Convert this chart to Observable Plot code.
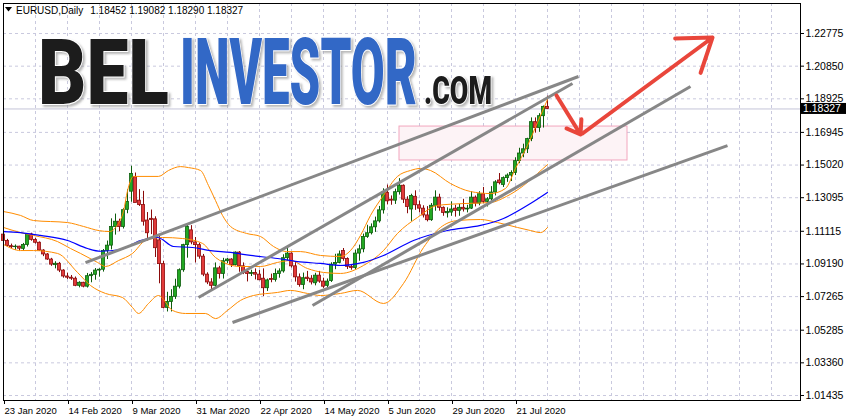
<!DOCTYPE html>
<html><head><meta charset="utf-8">
<script src="https://cdn.jsdelivr.net/npm/d3@7"></script>
<script src="https://cdn.jsdelivr.net/npm/@observablehq/plot@0.6"></script>
<style>
html,body{margin:0;padding:0;background:#fff;overflow:hidden;}
#chart{position:relative;width:846px;height:419px;overflow:hidden;}
#chart svg{display:block;}
</style></head><body><div id="chart"></div>
<script>
// ---------- data ----------
const xTickBars = [0,16,32,48,64,80,96,112,128];
const xTickLabels = ["23 Jan 2020","14 Feb 2020","9 Mar 2020","31 Mar 2020","22 Apr 2020","14 May 2020","5 Jun 2020","29 Jun 2020","21 Jul 2020"];
const yTicks = [1.22775,1.20850,1.18925,1.16945,1.15020,1.13095,1.11115,1.09190,1.07265,1.05285,1.03360,1.01435];
const yTickLabels = ["1.22775","1.20850","1.18925","1.16945","1.15020","1.13095","1.11115","1.09190","1.07265","1.05285","1.03360","1.01435"];
const gridBars = [8,16,24,32,40,48,56,64,72,80,88,96,104,112,120,128,136,144,152,160,168,176,184,192];

const open = [1.1092,1.1055,1.1024,1.1018,1.1021,1.1008,1.1031,1.1093,1.1061,1.1044,1.0998,1.0975,1.0945,1.0912,1.0920,1.0880,1.0845,1.0838,1.0832,1.0790,1.0808,1.0785,1.0847,1.0855,1.0880,1.0885,1.0995,
1.1027,1.1137,1.1168,1.1137,1.1238,1.1345,1.1430,1.1292,1.1266,1.1175,1.1185,1.1182,1.1058,1.0918,1.0660,1.0695,1.0725,1.0785,1.0882,1.1030,1.1117,1.1046,
1.1030,1.0962,1.0856,1.0810,1.0790,1.0893,1.0860,1.0935,1.0945,1.0912,1.0986,1.0905,1.0872,1.0860,1.0866,1.0856,1.0832,1.0776,1.0830,1.0825,1.0860,1.0875,
1.0953,1.0980,1.0905,1.0840,1.0795,1.0838,1.0832,1.0805,1.0850,1.0815,1.0790,1.0818,1.0915,1.0925,1.0995,1.0948,1.0902,1.0895,1.0980,1.1005,1.1078,
1.1100,1.1135,1.1170,1.1235,1.1338,1.1298,1.1292,1.1342,1.1380,1.1298,1.1240,1.1315,1.1265,1.1245,1.1205,1.1177,1.1262,1.1310,1.1250,1.1218,1.1222,1.1245,
1.1232,1.1250,1.1240,1.1245,1.1310,1.1275,1.1330,1.1285,1.1300,1.1340,1.1411,1.1385,1.1425,1.1440,1.1455,1.1525,1.1570,1.1595,1.1655,1.1755,1.1720,1.1790,1.18452];
const high = [1.1101,1.1064,1.1036,1.1031,1.1023,1.1040,1.1096,1.1100,1.1070,1.1049,1.1003,1.0980,1.0952,1.0932,1.0928,1.0885,1.0865,1.0851,1.0842,1.0814,1.0811,1.0863,1.0868,1.0892,1.0891,1.1004,1.1054,
1.1185,1.1213,1.1183,1.1245,1.1356,1.1495,1.1455,1.1357,1.1347,1.1222,1.1237,1.1197,1.1090,1.0935,1.0752,1.0767,1.0829,1.0890,1.1035,1.1147,1.1145,1.1075,
1.1041,1.0975,1.0867,1.0832,1.0925,1.0905,1.0952,1.0951,1.0950,1.0990,1.0992,1.0925,1.0886,1.0882,1.0890,1.0880,1.0890,1.0830,1.0859,1.0889,1.0890,1.0973,
1.1019,1.0985,1.0932,1.0860,1.0865,1.0875,1.0850,1.0864,1.0875,1.0835,1.0830,1.0926,1.0976,1.0995,1.1010,1.0955,1.0915,1.1000,1.1030,1.1095,1.1147,
1.1155,1.1195,1.1258,1.1362,1.1384,1.1320,1.1360,1.1422,1.1385,1.1315,1.1330,1.1350,1.1290,1.1262,1.1257,1.1275,1.1350,1.1330,1.1255,1.1250,1.1285,1.1265,
1.1270,1.1300,1.1265,1.1345,1.1320,1.1345,1.1370,1.1310,1.1375,1.1410,1.1452,1.1432,1.1450,1.1468,1.1545,1.1601,1.1625,1.1660,1.1780,1.1780,1.1805,1.1850,1.19082];
const low = [1.1036,1.1019,1.1010,1.0999,1.0992,1.0994,1.1019,1.1053,1.1036,1.0995,1.0962,1.0940,1.0905,1.0890,1.0868,1.0835,1.0827,1.0822,1.0785,1.0778,1.0778,1.0777,1.0808,1.0823,1.0841,1.0871,1.0945,
1.1002,1.1089,1.1109,1.1125,1.1215,1.1283,1.1282,1.1258,1.1142,1.1054,1.1092,1.0957,1.0802,1.0654,1.0636,1.0636,1.0710,1.0772,1.0870,1.0953,1.1032,1.0925,
1.0947,1.0844,1.0797,1.0768,1.0781,1.0830,1.0830,1.0921,1.0898,1.0907,1.0870,1.0856,1.0813,1.0845,1.0825,1.0820,1.0727,1.0757,1.0808,1.0812,1.0835,1.0865,
1.0937,1.0895,1.0812,1.0782,1.0767,1.0815,1.0795,1.0790,1.0805,1.0775,1.0766,1.0810,1.0885,1.0920,1.0935,1.0886,1.0882,1.0882,1.0935,1.0985,1.1070,
1.1090,1.1105,1.1160,1.1213,1.1267,1.1265,1.1270,1.1325,1.1275,1.1215,1.1170,1.1235,1.1220,1.1190,1.1167,1.1170,1.1230,1.1230,1.1200,1.1190,1.1200,1.1195,
1.1200,1.1225,1.1220,1.1240,1.1255,1.1262,1.1275,1.1255,1.1290,1.1320,1.1385,1.1370,1.1400,1.1405,1.1440,1.1510,1.1545,1.1570,1.1640,1.1690,1.1695,1.1720,1.18290];
const close = [1.1055,1.1025,1.1018,1.1020,1.1009,1.1031,1.1093,1.1061,1.1044,1.0998,1.0975,1.0945,1.0915,1.0920,1.0880,1.0845,1.0838,1.0832,1.0790,1.0808,1.0785,1.0847,1.0855,1.0880,1.0885,1.0995,1.1027,
1.1137,1.1168,1.1137,1.1236,1.1285,1.1450,1.1278,1.1266,1.1168,1.1100,1.1178,1.1012,1.0918,1.0660,1.0695,1.0725,1.0785,1.0882,1.1030,1.1137,1.1046,1.1030,
1.0962,1.0856,1.0810,1.0790,1.0893,1.0860,1.0935,1.0945,1.0912,1.0986,1.0905,1.0865,1.0860,1.0866,1.0856,1.0823,1.0776,1.0822,1.0825,1.0860,1.0875,1.0953,
1.0980,1.0905,1.0840,1.0795,1.0835,1.0830,1.0810,1.0850,1.0815,1.0785,1.0815,1.0915,1.0925,1.0975,1.0948,1.0902,1.0895,1.0980,1.1005,1.1078,1.1100,
1.1135,1.1170,1.1235,1.1340,1.1288,1.1292,1.1342,1.1380,1.1298,1.1255,1.1320,1.1265,1.1245,1.1205,1.1177,1.1262,1.1310,1.1250,1.1220,1.1225,1.1240,1.1232,
1.1250,1.1240,1.1245,1.1310,1.1275,1.1330,1.1285,1.1300,1.1340,1.1400,1.1395,1.1425,1.1440,1.1455,1.1525,1.1570,1.1595,1.1655,1.1755,1.1720,1.1790,1.1845,1.18327];

// indicator lines: [bar, price]
const bbUpper = [[0,1.1228],[4.25,1.1205],[7.5,1.1175],[16,1.1163],[20,1.1140],[24,1.1115],[26.5,1.1110],[28.5,1.1150],[30,1.1230],[31,1.1350],[32.5,1.1435],[38.75,1.1435],[41.25,1.1470],[44.25,1.1493],[46.25,1.1487],[49.25,1.1470],[51.25,1.1381],[53,1.1293],[54.75,1.1205],[56.75,1.1140],[60.75,1.1099],[64.25,1.1081],[67.5,1.1022],[70.75,1.0992],[74.25,1.0992],[79.25,1.0969],[84.25,1.0963],[86.75,1.0998],[89.25,1.1087],[91.75,1.1205],[95,1.1323],[98.5,1.1435],[101.75,1.1470],[104.25,1.1482],[106.75,1.1470],[111.75,1.1393],[116.75,1.1346],[121.75,1.1334],[125.5,1.1364],[128,1.1482],[131,1.1617],[133.5,1.1753],[136,1.1888]];
const bbMiddle = [[0,1.1134],[4.25,1.1104],[7.5,1.1087],[13.5,1.1051],[16.75,1.1010],[19.25,1.0981],[23.5,1.0928],[25.5,1.0904],[28.75,1.0939],[32.25,1.0981],[35.5,1.1057],[39.75,1.1075],[44.75,1.1069],[49.75,1.1040],[53,1.0957],[55,1.0928],[59.25,1.0904],[64.25,1.0904],[68.5,1.0928],[71.75,1.0939],[76,1.0892],[80,1.0869],[84.25,1.0863],[90,1.0910],[95,1.0998],[98.5,1.1099],[103.5,1.1193],[108.5,1.1264],[115,1.1275],[121.75,1.1281],[125.75,1.1317],[130,1.1381],[133.5,1.1452],[136,1.1505]];
const bbLower = [[0,1.1034],[4.25,1.0998],[7.5,1.0998],[13.5,1.0981],[18.5,1.0869],[21.75,1.0792],[25.5,1.0745],[29.75,1.0721],[32.25,1.0662],[33.75,1.0627],[36.25,1.0686],[38.75,1.0733],[42.25,1.0645],[45.5,1.0627],[50.5,1.0627],[53,1.0597],[56,1.0645],[59.25,1.0704],[62.5,1.0733],[68.5,1.0751],[71.75,1.0763],[76,1.0745],[79.25,1.0733],[84.25,1.0745],[88.5,1.0763],[95,1.0686],[100,1.0804],[105,1.1016],[109.25,1.1134],[113.5,1.1175],[119.25,1.1181],[123.5,1.1163],[128.5,1.1134],[131.75,1.1116],[134.25,1.1104],[136,1.1134]];
const maBlue = [[0,1.1110],[4.25,1.1104],[9.25,1.1087],[16,1.1057],[21,1.1010],[24.25,1.0994],[29.25,1.1004],[34.25,1.1057],[38.5,1.1075],[42.5,1.1022],[47.25,1.1016],[51.75,1.0998],[56.75,1.0987],[61.75,1.0969],[68.5,1.0951],[73.5,1.0933],[79.25,1.0922],[84.25,1.0910],[90,1.0928],[95,1.0969],[102.5,1.1057],[111,1.1116],[119.25,1.1146],[125,1.1187],[131.75,1.1275],[136,1.1340]];

// drawn objects: [bar1, price1, bar2, price2]
const trendLines = [[20.5,1.0927,143.75,1.2024],[48.75,1.0721,142.25,1.1983],[57.25,1.0574,181,1.1617],[77.25,1.0674,171.75,1.1965]];
const arrowSegs = [[138.25,1.1912,144.25,1.1682],[144.75,1.1688,177.25,1.2254]];
const zone = [[99,156,1.1529,1.1729]];
const lastPrice = 1.18327;
const headerSymbol = "EURUSD,Daily";
const headerValues = ["1.18452","1.19082","1.18290","1.18327"];

// ---------- chart ----------
const candles = open.map((o,i)=>({i,o,h:high[i],l:low[i],c:close[i],up:close[i]>=o}));
const bullFill="#22a822", bullEdge="#0c5c0c", bearFill="#e23a3a", bearEdge="#8a0a0a";
const grid="#c9c9de";
const FONT = "'Liberation Sans', Arial, sans-serif";

const chart = Plot.plot({
  width:846, height:419,
  marginLeft:3, marginRight:46, marginTop:3, marginBottom:19,
  x:{domain:[0,199.25], label:null},
  y:{domain:[1.01140,1.24544], label:null},
  style:{fontFamily:FONT, background:"#fff"},
  marks:[
    Plot.ruleY(yTicks,{stroke:grid,strokeDasharray:"3,3"}),
    Plot.ruleX(gridBars,{stroke:grid,strokeDasharray:"3,3"}),
    Plot.rect(zone,{x1:d=>d[0],x2:d=>d[1],y1:d=>d[2],y2:d=>d[3],fill:"#fdf3f6",stroke:"#f2a6be",strokeWidth:1}),
    Plot.ruleY([lastPrice],{stroke:"#c4c4d8"}),
    Plot.ruleX(candles,{x:"i",y1:"l",y2:"h",stroke:d=>d.up?bullEdge:bearEdge,strokeWidth:1}),
    Plot.rect(candles,{x1:d=>d.i-0.37,x2:d=>d.i+0.37,y1:"o",y2:d=>Math.abs(d.c-d.o)<0.0003?d.o+0.0003:d.c,
      fill:d=>d.up?bullFill:bearFill,stroke:d=>d.up?bullEdge:bearEdge,strokeWidth:0.8}),
    Plot.line(bbUpper,{x:d=>d[0],y:d=>d[1],stroke:"#ff8c00",strokeWidth:1,curve:"monotone-x"}),
    Plot.line(bbMiddle,{x:d=>d[0],y:d=>d[1],stroke:"#ff8c00",strokeWidth:1,curve:"monotone-x"}),
    Plot.line(bbLower,{x:d=>d[0],y:d=>d[1],stroke:"#ff8c00",strokeWidth:1,curve:"monotone-x"}),
    Plot.line(maBlue,{x:d=>d[0],y:d=>d[1],stroke:"#0000ff",strokeWidth:1.2,curve:"monotone-x"}),
    Plot.link(trendLines,{x1:d=>d[0],y1:d=>d[1],x2:d=>d[2],y2:d=>d[3],stroke:"#878787",strokeWidth:3}),
    Plot.arrow(arrowSegs,{x1:d=>d[0],y1:d=>d[1],x2:d=>d[2],y2:d=>d[3],stroke:"#e9463b",strokeWidth:4,headLength:14,headAngle:70}),
    Plot.frame({stroke:"#000"}),
    Plot.axisY(yTicks,{anchor:"right",label:null,tickSize:3,tickPadding:2,fontSize:10.5,fill:"#000",tickFormat:d=>yTickLabels[yTicks.indexOf(d)]}),
    Plot.axisX(xTickBars,{anchor:"bottom",label:null,tickSize:4,tickPadding:3,fontSize:9.5,fill:"#000",textAnchor:"start",dx:1,tickFormat:d=>xTickLabels[xTickBars.indexOf(d)]})
  ]
});
document.getElementById("chart").appendChild(chart);

const svg = d3.select(chart);

// extras positioned through the plot scales
const ys = chart.scale("y"), xs = chart.scale("x");
const yLast = ys.apply(lastPrice);
const xRight = xs.apply(199.25);
const lbl = svg.append("g").attr("text-anchor","start");
lbl.append("rect").attr("x",xRight).attr("y",yLast-5.5).attr("width",46).attr("height",11).attr("fill","#000");
lbl.append("text").attr("x",xRight+3).attr("y",yLast+3.8).attr("fill","#fff").attr("font-size",10.5)
  .attr("font-family",FONT).text(lastPrice.toFixed(5));

// header
const x0 = xs.apply(0), yTop = ys.apply(1.24544);
const hdr = svg.append("g").attr("text-anchor","start").attr("font-family",FONT).attr("font-size",10).attr("fill","#000");
hdr.append("path").attr("d",`M${x0+2},${yTop+4}h7l-3.5,4.5z`).attr("fill","#000");
const sym = hdr.append("text").attr("x",x0+13).attr("y",yTop+11).text(headerSymbol);
const symLen = sym.node().getComputedTextLength();
hdr.append("text").attr("x",x0+13+symLen+7).attr("y",yTop+11).text(headerValues.join(" "));

// watermark logo
const defs = svg.append("defs");
const f = defs.append("filter").attr("id","lg").attr("x","-10%").attr("y","-10%").attr("width","130%").attr("height","140%");
f.append("feDropShadow").attr("dx",2).attr("dy",2).attr("stdDeviation",1.2).attr("flood-color","#888").attr("flood-opacity",0.6);
const logo = svg.append("g").attr("filter","url(#lg)").attr("text-anchor","start")
  .attr("font-family","Roboto, 'Liberation Sans', sans-serif").attr("font-weight",900)
  .attr("stroke","#fff").attr("stroke-width",2).attr("paint-order","stroke");
logo.append("text").attr("x",38).attr("y",104).attr("font-size",90).attr("fill","#1c1c1c")
  .attr("textLength",131).attr("lengthAdjust","spacingAndGlyphs").text("BEL");
logo.append("text").attr("x",180).attr("y",104).attr("font-size",92).attr("fill","#3367c6")
  .attr("textLength",237).attr("lengthAdjust","spacingAndGlyphs").text("INVESTOR");
logo.append("text").attr("x",424).attr("y",104).attr("font-size",38).attr("fill","#1c1c1c")
  .attr("textLength",68).attr("lengthAdjust","spacingAndGlyphs").text(".COM");
</script></body></html>
